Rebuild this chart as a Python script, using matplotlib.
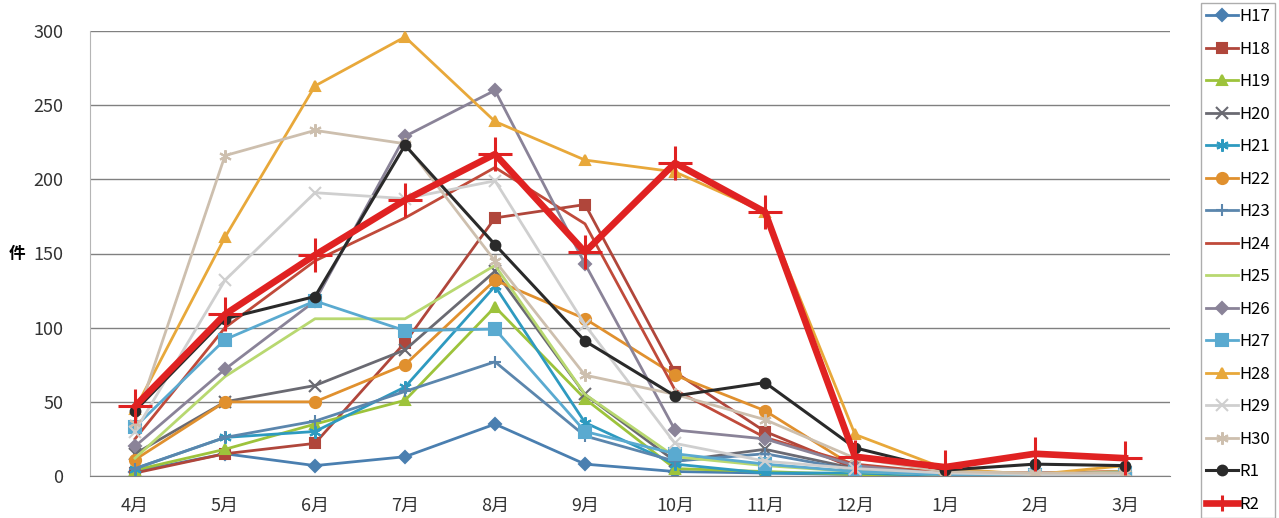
import matplotlib
matplotlib.use("Agg")
import matplotlib.pyplot as plt

plt.rcParams["font.family"] = ["Noto Sans CJK JP", "DejaVu Sans"]

# months (fiscal year, April to March)
months = ["4月", "5月", "6月", "7月", "8月", "9月", "10月", "11月", "12月", "1月", "2月", "3月"]

# counts per month
h17 = [3, 15, 7, 13, 35, 8, 3, 2, 1, 1, 0, 1]
h18 = [2, 15, 22, 90, 174, 183, 70, 30, 5, 2, 1, 1]
h19 = [4, 18, 35, 51, 114, 52, 5, 3, 1, 0, 1, 2]
h20 = [15, 50, 61, 85, 138, 55, 10, 18, 5, 1, 1, 2]
h21 = [5, 26, 30, 60, 128, 36, 8, 2, 2, 0, 0, 1]
h22 = [11, 50, 50, 75, 132, 106, 68, 44, 6, 3, 2, 3]
h23 = [5, 26, 37, 57, 77, 27, 10, 15, 4, 1, 1, 1]
h24 = [25, 100, 145, 174, 208, 170, 58, 26, 8, 2, 2, 3]
h25 = [12, 67, 106, 106, 142, 55, 13, 7, 3, 1, 1, 3]
h26 = [20, 72, 118, 229, 260, 143, 31, 25, 7, 1, 2, 2]
h27 = [33, 92, 118, 98, 99, 30, 15, 8, 3, 1, 1, 2]
h28 = [45, 161, 263, 296, 239, 213, 205, 178, 28, 5, 1, 7]
h29 = [30, 132, 191, 187, 199, 102, 22, 10, 5, 2, 1, 1]
h30 = [36, 216, 233, 224, 145, 68, 55, 38, 12, 3, 2, 2]
r1 = [44, 106, 121, 223, 156, 91, 54, 63, 19, 4, 8, 7]
r2 = [47, 109, 149, 186, 217, 151, 211, 178, 13, 6, 15, 12]

star = (6, 2, 0)
series = [
    ("H17", h17, "#4a7fb0", "D", 6, 2.0),
    ("H18", h18, "#b0463b", "s", 7, 2.0),
    ("H19", h19, "#9dc33b", "^", 7, 2.0),
    ("H20", h20, "#6a6a72", "x", 8, 2.0),
    ("H21", h21, "#2e9ac0", star, 9, 2.0),
    ("H22", h22, "#e0902e", "o", 8, 2.0),
    ("H23", h23, "#5b86ad", "+", 9, 2.0),
    ("H24", h24, "#c04a3a", None, 0, 2.0),
    ("H25", h25, "#b8d870", None, 0, 2.0),
    ("H26", h26, "#8a8398", "D", 6, 2.0),
    ("H27", h27, "#5aaad0", "s", 8, 2.0),
    ("H28", h28, "#e8a83a", "^", 7, 2.0),
    ("H29", h29, "#cfcfcf", "x", 8, 2.0),
    ("H30", h30, "#cdbfae", star, 9, 2.0),
    ("R1", r1, "#2a2a2a", "o", 7, 2.2),
    ("R2", r2, "#e02222", "+", 25, 4.8),
]

fig = plt.figure(figsize=(12.79, 5.18), dpi=100)
ax = fig.add_axes([90 / 1279, 42 / 518, 1080 / 1279, 445 / 518])

x = list(range(len(months)))
for name, vals, col, mk, ms, lw in series:
    mew = 2.2 if name == "R2" else 1.5
    ax.plot(x, vals, color=col, lw=lw, marker=mk, ms=ms, mew=mew,
            mfc=col, mec=col, label=name)

ax.set_xlim(-0.5, 11.5)
ax.set_ylim(0, 300)
ax.set_yticks([0, 50, 100, 150, 200, 250, 300])
ax.set_xticks(x)
ax.set_xticklabels(months)
ax.yaxis.grid(True, color="#808080", lw=1)
ax.set_axisbelow(True)
for s in ["top", "right"]:
    ax.spines[s].set_visible(False)
ax.spines["left"].set_color("#b5b5b5")
ax.spines["bottom"].set_color("#808080")
ax.tick_params(axis="y", length=0, pad=19, labelsize=13, colors="#333333")
ax.tick_params(axis="x", length=0, pad=15, labelsize=13, colors="#333333")
ax.set_ylabel("件", rotation=0, fontsize=12, fontweight="bold", va="center")
ax.yaxis.set_label_coords(-0.0676, 0.5)

leg = fig.legend(loc="upper left", bbox_to_anchor=(1201 / 1279, 0.994),
                 fontsize=12, labelspacing=0.93, handlelength=1.9,
                 handletextpad=0.1, borderpad=0.3, borderaxespad=0,
                 fancybox=False, frameon=True)
leg.get_frame().set_edgecolor("#999999")
leg.get_frame().set_linewidth(1)
# smaller cross for R2 in the legend, like the original
leg.get_lines()[-1].set_markersize(11)

fig.savefig("out.png", dpi=100)
